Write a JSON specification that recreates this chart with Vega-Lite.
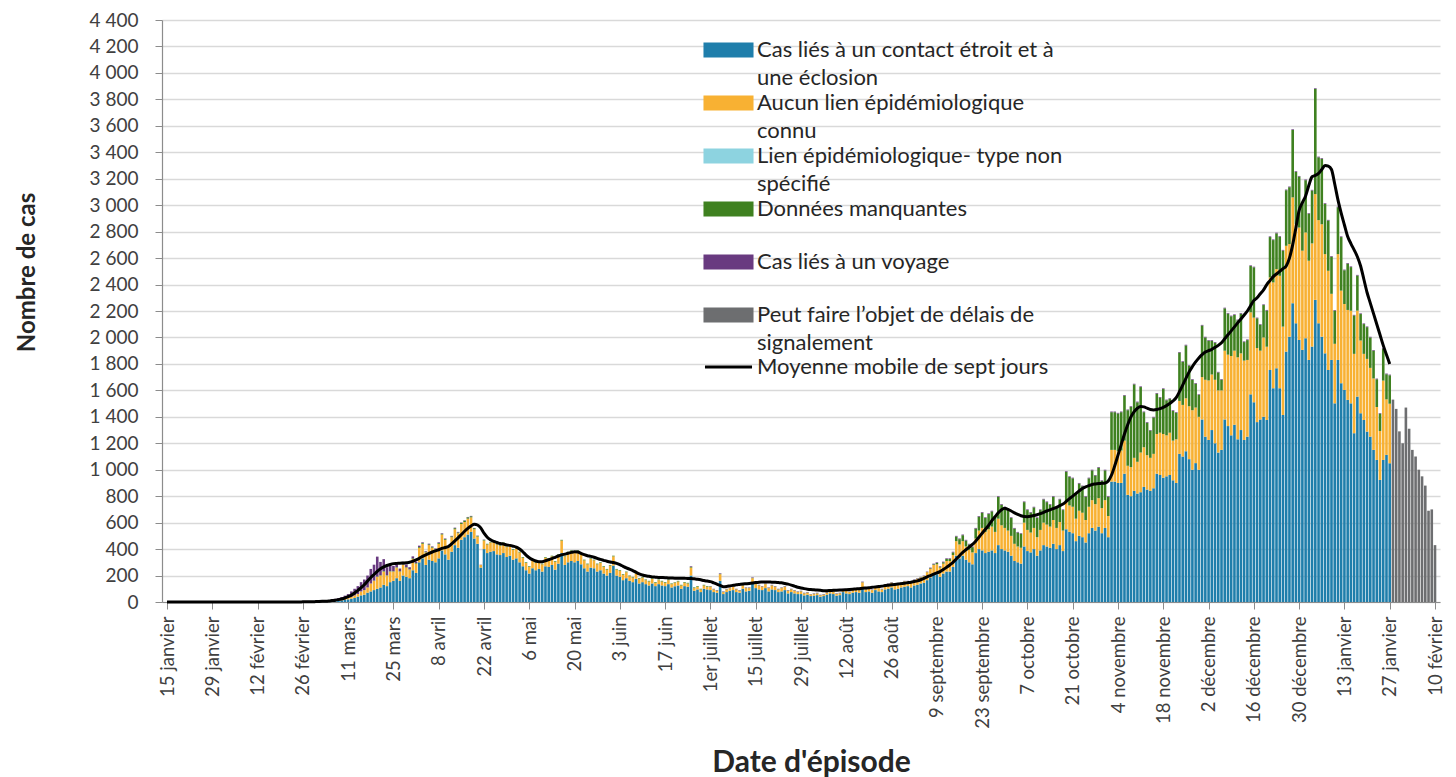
{
"$schema": "https://vega.github.io/schema/vega-lite/v6.json",
"width": 1278, "height": 582,
"autosize": {"type": "none"},
"padding": {"left": 162, "top": 20, "right": 16, "bottom": 175},
"background": "white",
"config": {
  "font": "Lato",
  "view": {"stroke": null},
  "locale": {
    "number": {"decimal": ",", "thousands": " ", "grouping": [3], "currency": ["", " €"]},
    "time": {"dateTime": "%A %e %B %Y à %X", "date": "%d/%m/%Y", "time": "%H:%M:%S", "periods": ["AM", "PM"],
      "days": ["dimanche","lundi","mardi","mercredi","jeudi","vendredi","samedi"],
      "shortDays": ["dim.","lun.","mar.","mer.","jeu.","ven.","sam."],
      "months": ["janvier","février","mars","avril","mai","juin","juillet","août","septembre","octobre","novembre","décembre"],
      "shortMonths": ["janv.","févr.","mars","avr.","mai","juin","juil.","août","sept.","oct.","nov.","déc."]}
  }
},
"data": {"values": [
{"date":"2020-01-15","moy":0},{"date":"2020-01-16","moy":0},{"date":"2020-01-17","moy":0},{"date":"2020-01-18","moy":0},{"date":"2020-01-19","moy":0},{"date":"2020-01-20","moy":0},{"date":"2020-01-21","moy":0},{"date":"2020-01-22","moy":0},{"date":"2020-01-23","moy":0},{"date":"2020-01-24","moy":0},{"date":"2020-01-25","moy":0},{"date":"2020-01-26","moy":0},{"date":"2020-01-27","moy":0},{"date":"2020-01-28","moy":0},
{"date":"2020-01-29","moy":0},{"date":"2020-01-30","moy":0},{"date":"2020-01-31","moy":0},{"date":"2020-02-01","moy":0},{"date":"2020-02-02","moy":0},{"date":"2020-02-03","moy":0},{"date":"2020-02-04","moy":0},{"date":"2020-02-05","moy":0},{"date":"2020-02-06","moy":0},{"date":"2020-02-07","moy":0},{"date":"2020-02-08","moy":0},{"date":"2020-02-09","moy":0},{"date":"2020-02-10","moy":0},{"date":"2020-02-11","moy":0},
{"date":"2020-02-12","moy":0},{"date":"2020-02-13","moy":0},{"date":"2020-02-14","moy":0},{"date":"2020-02-15","moy":0},{"date":"2020-02-16","moy":0},{"date":"2020-02-17","moy":0},{"date":"2020-02-18","moy":0},{"date":"2020-02-19","moy":0},{"date":"2020-02-20","moy":0},{"date":"2020-02-21","moy":0},{"date":"2020-02-22","moy":0},{"date":"2020-02-23","moy":0},{"date":"2020-02-24","moy":0},{"date":"2020-02-25","moy":0},
{"date":"2020-02-26","e_voy":2,"moy":1},
{"date":"2020-02-27","a_ctc":1,"e_voy":1,"moy":1},
{"date":"2020-02-28","e_voy":3,"moy":2},
{"date":"2020-02-29","a_ctc":1,"e_voy":2,"moy":2},
{"date":"2020-03-01","a_ctc":2,"e_voy":4,"moy":3},
{"date":"2020-03-02","a_ctc":2,"e_voy":5,"moy":4},
{"date":"2020-03-03","a_ctc":3,"e_voy":6,"moy":5},
{"date":"2020-03-04","a_ctc":4,"b_inc":1,"e_voy":8,"moy":6},
{"date":"2020-03-05","a_ctc":5,"b_inc":2,"e_voy":8,"moy":8},
{"date":"2020-03-06","a_ctc":6,"b_inc":3,"e_voy":10,"moy":11},
{"date":"2020-03-07","a_ctc":8,"b_inc":4,"e_voy":12,"moy":14},
{"date":"2020-03-08","a_ctc":10,"b_inc":5,"e_voy":15,"moy":18},
{"date":"2020-03-09","a_ctc":12,"b_inc":6,"e_voy":20,"moy":23},
{"date":"2020-03-10","a_ctc":15,"b_inc":8,"e_voy":25,"moy":30},
{"date":"2020-03-11","a_ctc":20,"b_inc":10,"e_voy":30,"moy":40},
{"date":"2020-03-12","a_ctc":25,"b_inc":15,"e_voy":40,"moy":52},
{"date":"2020-03-13","a_ctc":30,"b_inc":20,"e_voy":50,"moy":68},
{"date":"2020-03-14","a_ctc":40,"b_inc":20,"e_voy":60,"moy":88},
{"date":"2020-03-15","a_ctc":50,"b_inc":30,"e_voy":70,"moy":108},
{"date":"2020-03-16","a_ctc":55,"b_inc":35,"e_voy":80,"moy":130},
{"date":"2020-03-17","a_ctc":70,"b_inc":40,"e_voy":90,"moy":158},
{"date":"2020-03-18","a_ctc":80,"b_inc":60,"e_voy":110,"moy":185},
{"date":"2020-03-19","a_ctc":90,"b_inc":70,"d_man":2,"e_voy":120,"moy":208},
{"date":"2020-03-20","a_ctc":100,"b_inc":90,"d_man":3,"e_voy":150,"moy":232},
{"date":"2020-03-21","a_ctc":110,"b_inc":90,"d_man":3,"e_voy":100,"moy":252},
{"date":"2020-03-22","a_ctc":130,"b_inc":100,"d_man":4,"e_voy":90,"moy":266},
{"date":"2020-03-23","a_ctc":120,"b_inc":80,"d_man":3,"e_voy":60,"moy":276},
{"date":"2020-03-24","a_ctc":150,"b_inc":80,"d_man":3,"e_voy":50,"moy":284},
{"date":"2020-03-25","a_ctc":160,"b_inc":70,"d_man":3,"e_voy":40,"moy":290},
{"date":"2020-03-26","a_ctc":180,"b_inc":80,"d_man":4,"e_voy":30,"moy":292},
{"date":"2020-03-27","a_ctc":160,"b_inc":70,"d_man":3,"e_voy":20,"moy":293},
{"date":"2020-03-28","a_ctc":200,"b_inc":80,"d_man":4,"e_voy":20,"moy":295},
{"date":"2020-03-29","a_ctc":190,"b_inc":70,"d_man":4,"e_voy":20,"moy":297},
{"date":"2020-03-30","a_ctc":180,"b_inc":65,"d_man":3,"e_voy":15,"moy":300},
{"date":"2020-03-31","a_ctc":240,"b_inc":85,"d_man":5,"e_voy":15,"moy":308},
{"date":"2020-04-01","a_ctc":220,"b_inc":70,"d_man":5,"e_voy":10,"moy":318},
{"date":"2020-04-02","a_ctc":300,"b_inc":110,"d_man":6,"e_voy":10,"moy":330},
{"date":"2020-04-03","a_ctc":330,"b_inc":110,"d_man":6,"e_voy":5,"moy":345},
{"date":"2020-04-04","a_ctc":280,"b_inc":95,"d_man":5,"e_voy":5,"moy":357},
{"date":"2020-04-05","a_ctc":320,"b_inc":110,"d_man":6,"e_voy":5,"moy":368},
{"date":"2020-04-06","a_ctc":310,"b_inc":100,"d_man":5,"e_voy":5,"moy":378},
{"date":"2020-04-07","a_ctc":300,"b_inc":95,"d_man":5,"e_voy":5,"moy":387},
{"date":"2020-04-08","a_ctc":330,"b_inc":110,"d_man":6,"e_voy":5,"moy":395},
{"date":"2020-04-09","a_ctc":390,"b_inc":120,"d_man":6,"e_voy":4,"moy":405},
{"date":"2020-04-10","a_ctc":360,"b_inc":110,"d_man":6,"e_voy":4,"moy":412},
{"date":"2020-04-11","a_ctc":320,"b_inc":95,"d_man":5,"e_voy":3,"moy":420},
{"date":"2020-04-12","a_ctc":380,"b_inc":110,"d_man":6,"e_voy":4,"moy":440},
{"date":"2020-04-13","a_ctc":430,"b_inc":120,"d_man":8,"e_voy":4,"moy":462},
{"date":"2020-04-14","a_ctc":410,"b_inc":110,"d_man":6,"e_voy":4,"moy":485},
{"date":"2020-04-15","a_ctc":470,"b_inc":120,"d_man":8,"e_voy":3,"moy":510},
{"date":"2020-04-16","a_ctc":490,"b_inc":115,"d_man":10,"e_voy":3,"moy":535},
{"date":"2020-04-17","a_ctc":510,"b_inc":120,"d_man":10,"e_voy":3,"moy":557},
{"date":"2020-04-18","a_ctc":530,"b_inc":110,"d_man":8,"e_voy":3,"moy":575},
{"date":"2020-04-19","a_ctc":480,"b_inc":70,"d_man":8,"e_voy":2,"moy":588},
{"date":"2020-04-20","a_ctc":440,"b_inc":55,"d_man":5,"e_voy":2,"moy":582},
{"date":"2020-04-21","a_ctc":260,"b_inc":20,"e_voy":2,"moy":560},
{"date":"2020-04-22","a_ctc":400,"b_inc":65,"d_man":5,"e_voy":2,"moy":520},
{"date":"2020-04-23","a_ctc":370,"b_inc":65,"d_man":5,"moy":490},
{"date":"2020-04-24","a_ctc":380,"b_inc":70,"d_man":5,"moy":470},
{"date":"2020-04-25","a_ctc":385,"b_inc":70,"d_man":5,"moy":458},
{"date":"2020-04-26","a_ctc":360,"b_inc":75,"d_man":5,"moy":450},
{"date":"2020-04-27","a_ctc":355,"b_inc":70,"d_man":5,"moy":442},
{"date":"2020-04-28","a_ctc":370,"b_inc":75,"d_man":5,"moy":438},
{"date":"2020-04-29","a_ctc":340,"b_inc":75,"d_man":5,"moy":432},
{"date":"2020-04-30","a_ctc":350,"b_inc":75,"d_man":5,"moy":428},
{"date":"2020-05-01","a_ctc":320,"b_inc":75,"d_man":5,"moy":422},
{"date":"2020-05-02","a_ctc":330,"b_inc":75,"d_man":5,"moy":415},
{"date":"2020-05-03","a_ctc":300,"b_inc":75,"d_man":5,"moy":400},
{"date":"2020-05-04","a_ctc":270,"b_inc":65,"d_man":5,"moy":380},
{"date":"2020-05-05","a_ctc":240,"b_inc":55,"d_man":5,"moy":355},
{"date":"2020-05-06","a_ctc":215,"b_inc":50,"d_man":5,"moy":335},
{"date":"2020-05-07","a_ctc":255,"b_inc":60,"d_man":5,"moy":320},
{"date":"2020-05-08","a_ctc":240,"b_inc":55,"d_man":5,"moy":310},
{"date":"2020-05-09","a_ctc":250,"b_inc":55,"d_man":5,"moy":305},
{"date":"2020-05-10","a_ctc":230,"b_inc":55,"d_man":5,"moy":305},
{"date":"2020-05-11","a_ctc":270,"b_inc":65,"d_man":5,"moy":312},
{"date":"2020-05-12","a_ctc":265,"b_inc":60,"d_man":5,"moy":320},
{"date":"2020-05-13","a_ctc":280,"b_inc":65,"d_man":5,"moy":328},
{"date":"2020-05-14","a_ctc":245,"b_inc":60,"d_man":5,"moy":338},
{"date":"2020-05-15","a_ctc":290,"b_inc":65,"d_man":5,"moy":348},
{"date":"2020-05-16","a_ctc":370,"b_inc":95,"d_man":5,"moy":356},
{"date":"2020-05-17","a_ctc":280,"b_inc":65,"d_man":5,"moy":362},
{"date":"2020-05-18","a_ctc":300,"b_inc":75,"d_man":5,"moy":368},
{"date":"2020-05-19","a_ctc":310,"b_inc":75,"d_man":5,"moy":375},
{"date":"2020-05-20","a_ctc":300,"b_inc":75,"d_man":5,"moy":380},
{"date":"2020-05-21","a_ctc":310,"b_inc":75,"d_man":5,"moy":378},
{"date":"2020-05-22","a_ctc":285,"b_inc":70,"d_man":5,"moy":368},
{"date":"2020-05-23","a_ctc":255,"b_inc":60,"d_man":5,"moy":358},
{"date":"2020-05-24","a_ctc":230,"b_inc":55,"d_man":5,"moy":350},
{"date":"2020-05-25","a_ctc":260,"b_inc":65,"d_man":5,"moy":345},
{"date":"2020-05-26","a_ctc":255,"b_inc":60,"d_man":5,"moy":338},
{"date":"2020-05-27","a_ctc":230,"b_inc":55,"d_man":5,"moy":330},
{"date":"2020-05-28","a_ctc":240,"b_inc":55,"d_man":5,"moy":322},
{"date":"2020-05-29","a_ctc":215,"b_inc":50,"d_man":5,"moy":315},
{"date":"2020-05-30","a_ctc":200,"b_inc":45,"d_man":5,"moy":308},
{"date":"2020-05-31","a_ctc":220,"b_inc":55,"d_man":5,"moy":302},
{"date":"2020-06-01","a_ctc":275,"b_inc":70,"d_man":5,"moy":298},
{"date":"2020-06-02","a_ctc":200,"b_inc":45,"d_man":5,"moy":292},
{"date":"2020-06-03","a_ctc":190,"b_inc":45,"d_man":5,"moy":282},
{"date":"2020-06-04","a_ctc":165,"b_inc":40,"d_man":5,"moy":270},
{"date":"2020-06-05","a_ctc":180,"b_inc":45,"d_man":5,"moy":258},
{"date":"2020-06-06","a_ctc":160,"b_inc":35,"d_man":5,"moy":248},
{"date":"2020-06-07","a_ctc":150,"b_inc":35,"d_man":5,"moy":238},
{"date":"2020-06-08","a_ctc":175,"b_inc":40,"d_man":5,"moy":225},
{"date":"2020-06-09","a_ctc":140,"b_inc":35,"d_man":5,"moy":212},
{"date":"2020-06-10","a_ctc":150,"b_inc":35,"d_man":5,"moy":204},
{"date":"2020-06-11","a_ctc":135,"b_inc":30,"d_man":5,"moy":198},
{"date":"2020-06-12","a_ctc":125,"b_inc":30,"d_man":5,"moy":194},
{"date":"2020-06-13","a_ctc":140,"b_inc":35,"d_man":5,"moy":190},
{"date":"2020-06-14","a_ctc":120,"b_inc":25,"d_man":5,"moy":188},
{"date":"2020-06-15","a_ctc":135,"b_inc":30,"d_man":5,"moy":186},
{"date":"2020-06-16","a_ctc":125,"b_inc":30,"d_man":5,"moy":185},
{"date":"2020-06-17","a_ctc":120,"b_inc":25,"d_man":5,"moy":184},
{"date":"2020-06-18","a_ctc":135,"b_inc":30,"d_man":5,"moy":182},
{"date":"2020-06-19","a_ctc":110,"b_inc":25,"d_man":5,"moy":181},
{"date":"2020-06-20","a_ctc":120,"b_inc":25,"d_man":5,"moy":180},
{"date":"2020-06-21","a_ctc":125,"b_inc":30,"d_man":5,"moy":180},
{"date":"2020-06-22","a_ctc":100,"b_inc":25,"d_man":5,"moy":180},
{"date":"2020-06-23","a_ctc":120,"b_inc":25,"d_man":5,"moy":179},
{"date":"2020-06-24","a_ctc":115,"b_inc":25,"d_man":5,"moy":178},
{"date":"2020-06-25","a_ctc":200,"b_inc":60,"d_man":5,"e_voy":5,"moy":178},
{"date":"2020-06-26","a_ctc":85,"b_inc":20,"d_man":5,"moy":175},
{"date":"2020-06-27","a_ctc":95,"b_inc":20,"d_man":5,"moy":172},
{"date":"2020-06-28","a_ctc":75,"b_inc":20,"d_man":5,"moy":168},
{"date":"2020-06-29","a_ctc":100,"b_inc":25,"d_man":5,"moy":162},
{"date":"2020-06-30","a_ctc":95,"b_inc":20,"d_man":5,"moy":158},
{"date":"2020-07-01","a_ctc":90,"b_inc":25,"d_man":3,"e_voy":2,"moy":154},
{"date":"2020-07-02","a_ctc":75,"b_inc":20,"d_man":2,"e_voy":3,"moy":145},
{"date":"2020-07-03","a_ctc":70,"b_inc":15,"d_man":2,"e_voy":3,"moy":135},
{"date":"2020-07-04","a_ctc":160,"b_inc":50,"d_man":3,"e_voy":4,"moy":125},
{"date":"2020-07-05","a_ctc":60,"b_inc":15,"d_man":2,"e_voy":3,"moy":116},
{"date":"2020-07-06","a_ctc":75,"b_inc":20,"d_man":2,"e_voy":3,"moy":118},
{"date":"2020-07-07","a_ctc":85,"b_inc":20,"d_man":2,"e_voy":3,"moy":122},
{"date":"2020-07-08","a_ctc":90,"b_inc":25,"d_man":2,"e_voy":3,"moy":126},
{"date":"2020-07-09","a_ctc":75,"b_inc":20,"d_man":2,"e_voy":3,"moy":130},
{"date":"2020-07-10","a_ctc":70,"b_inc":15,"d_man":2,"e_voy":3,"moy":133},
{"date":"2020-07-11","a_ctc":100,"b_inc":25,"d_man":2,"e_voy":3,"moy":136},
{"date":"2020-07-12","a_ctc":80,"b_inc":25,"d_man":2,"e_voy":3,"moy":138},
{"date":"2020-07-13","a_ctc":85,"b_inc":20,"d_man":2,"e_voy":3,"moy":140},
{"date":"2020-07-14","a_ctc":140,"b_inc":40,"d_man":2,"e_voy":4,"moy":143},
{"date":"2020-07-15","a_ctc":105,"b_inc":30,"d_man":2,"e_voy":3,"moy":147},
{"date":"2020-07-16","a_ctc":95,"b_inc":30,"d_man":2,"e_voy":3,"moy":150},
{"date":"2020-07-17","a_ctc":90,"b_inc":25,"d_man":2,"e_voy":3,"moy":151},
{"date":"2020-07-18","a_ctc":105,"b_inc":30,"d_man":2,"e_voy":3,"moy":152},
{"date":"2020-07-19","a_ctc":80,"b_inc":25,"d_man":2,"e_voy":3,"moy":151},
{"date":"2020-07-20","a_ctc":95,"b_inc":30,"d_man":2,"e_voy":3,"moy":150},
{"date":"2020-07-21","a_ctc":90,"b_inc":25,"d_man":2,"e_voy":3,"moy":149},
{"date":"2020-07-22","a_ctc":75,"b_inc":20,"d_man":2,"e_voy":3,"moy":147},
{"date":"2020-07-23","a_ctc":80,"b_inc":25,"d_man":2,"e_voy":3,"moy":145},
{"date":"2020-07-24","a_ctc":90,"b_inc":25,"d_man":2,"e_voy":3,"moy":140},
{"date":"2020-07-25","a_ctc":65,"b_inc":20,"d_man":2,"e_voy":3,"moy":135},
{"date":"2020-07-26","a_ctc":75,"b_inc":20,"d_man":2,"e_voy":3,"moy":128},
{"date":"2020-07-27","a_ctc":65,"b_inc":20,"d_man":2,"e_voy":3,"moy":120},
{"date":"2020-07-28","a_ctc":60,"b_inc":15,"d_man":2,"e_voy":3,"moy":112},
{"date":"2020-07-29","a_ctc":60,"b_inc":20,"d_man":2,"e_voy":3,"moy":106},
{"date":"2020-07-30","a_ctc":50,"b_inc":15,"d_man":2,"e_voy":3,"moy":101},
{"date":"2020-07-31","a_ctc":55,"b_inc":15,"d_man":2,"e_voy":3,"moy":97},
{"date":"2020-08-01","a_ctc":45,"b_inc":12,"d_man":1,"e_voy":2,"moy":94},
{"date":"2020-08-02","a_ctc":48,"b_inc":12,"d_man":2,"e_voy":3,"moy":92},
{"date":"2020-08-03","a_ctc":52,"b_inc":13,"d_man":2,"e_voy":3,"moy":90},
{"date":"2020-08-04","a_ctc":40,"b_inc":10,"d_man":2,"e_voy":3,"moy":88},
{"date":"2020-08-05","a_ctc":45,"b_inc":10,"d_man":2,"e_voy":3,"moy":86},
{"date":"2020-08-06","a_ctc":55,"b_inc":15,"d_man":2,"e_voy":3,"moy":86},
{"date":"2020-08-07","a_ctc":65,"b_inc":20,"d_man":2,"e_voy":3,"moy":87},
{"date":"2020-08-08","a_ctc":60,"b_inc":15,"d_man":2,"e_voy":3,"moy":88},
{"date":"2020-08-09","a_ctc":48,"b_inc":12,"d_man":2,"e_voy":3,"moy":89},
{"date":"2020-08-10","a_ctc":52,"b_inc":13,"d_man":2,"e_voy":3,"moy":90},
{"date":"2020-08-11","a_ctc":75,"b_inc":20,"d_man":2,"e_voy":3,"moy":91},
{"date":"2020-08-12","a_ctc":65,"b_inc":20,"d_man":2,"e_voy":3,"moy":93},
{"date":"2020-08-13","a_ctc":60,"b_inc":15,"d_man":2,"e_voy":3,"moy":95},
{"date":"2020-08-14","a_ctc":70,"b_inc":20,"d_man":2,"e_voy":3,"moy":97},
{"date":"2020-08-15","a_ctc":75,"b_inc":20,"d_man":2,"e_voy":3,"moy":99},
{"date":"2020-08-16","a_ctc":70,"b_inc":20,"d_man":2,"e_voy":3,"moy":101},
{"date":"2020-08-17","a_ctc":110,"b_inc":38,"d_man":2,"e_voy":4,"moy":104},
{"date":"2020-08-18","a_ctc":75,"b_inc":20,"d_man":2,"e_voy":3,"moy":106},
{"date":"2020-08-19","a_ctc":80,"b_inc":25,"d_man":2,"e_voy":3,"moy":108},
{"date":"2020-08-20","a_ctc":70,"b_inc":20,"d_man":2,"e_voy":3,"moy":111},
{"date":"2020-08-21","a_ctc":90,"b_inc":25,"d_man":2,"e_voy":3,"moy":114},
{"date":"2020-08-22","a_ctc":80,"b_inc":25,"d_man":2,"e_voy":3,"moy":117},
{"date":"2020-08-23","a_ctc":75,"b_inc":20,"d_man":2,"e_voy":3,"moy":120},
{"date":"2020-08-24","a_ctc":95,"b_inc":30,"d_man":2,"e_voy":3,"moy":124},
{"date":"2020-08-25","a_ctc":100,"b_inc":35,"d_man":2,"e_voy":3,"moy":127},
{"date":"2020-08-26","a_ctc":110,"b_inc":35,"d_man":2,"e_voy":3,"moy":130},
{"date":"2020-08-27","a_ctc":95,"b_inc":30,"d_man":2,"e_voy":3,"moy":133},
{"date":"2020-08-28","a_ctc":100,"b_inc":35,"d_man":2,"e_voy":3,"moy":136},
{"date":"2020-08-29","a_ctc":110,"b_inc":35,"d_man":2,"e_voy":3,"moy":139},
{"date":"2020-08-30","a_ctc":115,"b_inc":40,"d_man":2,"e_voy":3,"moy":142},
{"date":"2020-08-31","a_ctc":120,"b_inc":35,"d_man":2,"e_voy":3,"moy":146},
{"date":"2020-09-01","a_ctc":110,"b_inc":35,"d_man":2,"e_voy":3,"moy":150},
{"date":"2020-09-02","a_ctc":125,"b_inc":40,"d_man":2,"e_voy":3,"moy":155},
{"date":"2020-09-03","a_ctc":130,"b_inc":45,"d_man":2,"e_voy":3,"moy":160},
{"date":"2020-09-04","a_ctc":140,"b_inc":45,"d_man":2,"e_voy":3,"moy":168},
{"date":"2020-09-05","a_ctc":145,"b_inc":50,"d_man":2,"e_voy":3,"moy":178},
{"date":"2020-09-06","a_ctc":165,"b_inc":60,"d_man":2,"e_voy":3,"moy":190},
{"date":"2020-09-07","a_ctc":185,"b_inc":65,"d_man":5,"e_voy":5,"moy":200},
{"date":"2020-09-08","a_ctc":205,"b_inc":75,"d_man":5,"e_voy":5,"moy":210},
{"date":"2020-09-09","a_ctc":210,"b_inc":75,"d_man":10,"e_voy":5,"moy":220},
{"date":"2020-09-10","a_ctc":190,"b_inc":70,"d_man":5,"e_voy":5,"moy":230},
{"date":"2020-09-11","a_ctc":215,"b_inc":75,"d_man":10,"e_voy":5,"moy":245},
{"date":"2020-09-12","a_ctc":230,"b_inc":80,"d_man":15,"e_voy":5,"moy":262},
{"date":"2020-09-13","a_ctc":230,"b_inc":80,"d_man":15,"e_voy":5,"moy":280},
{"date":"2020-09-14","a_ctc":265,"b_inc":90,"d_man":20,"e_voy":5,"moy":300},
{"date":"2020-09-15","a_ctc":350,"b_inc":110,"d_man":35,"e_voy":5,"moy":325},
{"date":"2020-09-16","a_ctc":330,"b_inc":105,"d_man":40,"e_voy":5,"moy":350},
{"date":"2020-09-17","a_ctc":350,"b_inc":110,"d_man":45,"e_voy":5,"moy":375},
{"date":"2020-09-18","a_ctc":320,"b_inc":100,"d_man":45,"e_voy":5,"moy":395},
{"date":"2020-09-19","a_ctc":300,"b_inc":95,"d_man":40,"e_voy":5,"moy":415},
{"date":"2020-09-20","a_ctc":285,"b_inc":90,"d_man":40,"e_voy":5,"moy":435},
{"date":"2020-09-21","a_ctc":370,"b_inc":110,"d_man":75,"e_voy":5,"moy":460},
{"date":"2020-09-22","a_ctc":400,"b_inc":140,"d_man":105,"e_voy":5,"moy":490},
{"date":"2020-09-23","a_ctc":390,"b_inc":170,"d_man":115,"e_voy":5,"moy":520},
{"date":"2020-09-24","a_ctc":370,"b_inc":160,"d_man":105,"e_voy":5,"moy":550},
{"date":"2020-09-25","a_ctc":380,"b_inc":170,"d_man":115,"e_voy":5,"moy":580},
{"date":"2020-09-26","a_ctc":390,"b_inc":180,"d_man":115,"e_voy":5,"moy":615},
{"date":"2020-09-27","a_ctc":370,"b_inc":160,"d_man":115,"e_voy":5,"moy":645},
{"date":"2020-09-28","a_ctc":430,"b_inc":200,"d_man":165,"e_voy":5,"moy":675},
{"date":"2020-09-29","a_ctc":400,"b_inc":180,"d_man":155,"e_voy":5,"moy":698},
{"date":"2020-09-30","a_ctc":390,"b_inc":170,"d_man":155,"e_voy":5,"moy":708},
{"date":"2020-10-01","a_ctc":380,"b_inc":160,"d_man":155,"e_voy":5,"moy":700},
{"date":"2020-10-02","a_ctc":350,"b_inc":150,"d_man":135,"e_voy":5,"moy":688},
{"date":"2020-10-03","a_ctc":310,"b_inc":130,"d_man":115,"e_voy":5,"moy":674},
{"date":"2020-10-04","a_ctc":300,"b_inc":120,"d_man":105,"e_voy":5,"moy":662},
{"date":"2020-10-05","a_ctc":290,"b_inc":120,"d_man":105,"e_voy":5,"moy":652},
{"date":"2020-10-06","a_ctc":420,"b_inc":180,"d_man":155,"e_voy":5,"moy":646},
{"date":"2020-10-07","a_ctc":385,"b_inc":160,"d_man":150,"e_voy":5,"moy":645},
{"date":"2020-10-08","a_ctc":375,"b_inc":150,"d_man":150,"e_voy":5,"moy":648},
{"date":"2020-10-09","a_ctc":400,"b_inc":160,"d_man":155,"e_voy":5,"moy":654},
{"date":"2020-10-10","a_ctc":350,"b_inc":140,"d_man":145,"e_voy":5,"moy":660},
{"date":"2020-10-11","a_ctc":390,"b_inc":155,"d_man":150,"e_voy":5,"moy":668},
{"date":"2020-10-12","a_ctc":430,"b_inc":170,"d_man":175,"e_voy":5,"moy":678},
{"date":"2020-10-13","a_ctc":420,"b_inc":165,"d_man":170,"e_voy":5,"moy":688},
{"date":"2020-10-14","a_ctc":410,"b_inc":160,"d_man":165,"e_voy":5,"moy":697},
{"date":"2020-10-15","a_ctc":440,"b_inc":180,"d_man":175,"e_voy":5,"moy":706},
{"date":"2020-10-16","a_ctc":400,"b_inc":160,"d_man":155,"e_voy":5,"moy":716},
{"date":"2020-10-17","a_ctc":430,"b_inc":175,"d_man":170,"e_voy":5,"moy":728},
{"date":"2020-10-18","a_ctc":385,"b_inc":155,"d_man":155,"e_voy":5,"moy":740},
{"date":"2020-10-19","a_ctc":550,"b_inc":210,"d_man":225,"e_voy":5,"moy":760},
{"date":"2020-10-20","a_ctc":530,"b_inc":200,"d_man":215,"e_voy":5,"moy":782},
{"date":"2020-10-21","a_ctc":520,"b_inc":200,"d_man":215,"e_voy":5,"moy":800},
{"date":"2020-10-22","a_ctc":460,"b_inc":170,"d_man":185,"e_voy":5,"moy":820},
{"date":"2020-10-23","a_ctc":500,"b_inc":190,"d_man":205,"e_voy":5,"moy":840},
{"date":"2020-10-24","a_ctc":490,"b_inc":185,"d_man":200,"e_voy":5,"moy":858},
{"date":"2020-10-25","a_ctc":450,"b_inc":170,"d_man":175,"e_voy":5,"moy":870},
{"date":"2020-10-26","a_ctc":520,"b_inc":200,"d_man":215,"e_voy":5,"moy":880},
{"date":"2020-10-27","a_ctc":560,"b_inc":210,"d_man":225,"e_voy":5,"moy":888},
{"date":"2020-10-28","a_ctc":540,"b_inc":200,"d_man":215,"e_voy":5,"moy":892},
{"date":"2020-10-29","a_ctc":570,"b_inc":215,"d_man":230,"e_voy":5,"moy":895},
{"date":"2020-10-30","a_ctc":520,"b_inc":190,"d_man":205,"e_voy":5,"moy":897},
{"date":"2020-10-31","a_ctc":560,"b_inc":210,"d_man":225,"e_voy":5,"moy":900},
{"date":"2020-11-01","a_ctc":490,"b_inc":160,"d_man":145,"e_voy":5,"moy":915},
{"date":"2020-11-02","a_ctc":910,"b_inc":240,"d_man":285,"e_voy":5,"moy":960},
{"date":"2020-11-03","a_ctc":910,"b_inc":240,"d_man":285,"e_voy":5,"moy":1030},
{"date":"2020-11-04","a_ctc":900,"b_inc":240,"d_man":285,"e_voy":5,"moy":1110},
{"date":"2020-11-05","a_ctc":900,"b_inc":245,"d_man":290,"e_voy":5,"moy":1190},
{"date":"2020-11-06","a_ctc":970,"b_inc":250,"d_man":340,"e_voy":5,"moy":1270},
{"date":"2020-11-07","a_ctc":810,"b_inc":220,"d_man":420,"e_voy":5,"moy":1340},
{"date":"2020-11-08","a_ctc":800,"b_inc":220,"d_man":455,"e_voy":5,"moy":1400},
{"date":"2020-11-09","a_ctc":840,"b_inc":250,"d_man":555,"e_voy":5,"moy":1440},
{"date":"2020-11-10","a_ctc":820,"b_inc":240,"d_man":450,"e_voy":5,"moy":1465},
{"date":"2020-11-11","a_ctc":830,"b_inc":300,"d_man":495,"e_voy":5,"moy":1478},
{"date":"2020-11-12","a_ctc":870,"b_inc":300,"d_man":265,"e_voy":5,"moy":1475},
{"date":"2020-11-13","a_ctc":850,"b_inc":260,"d_man":245,"e_voy":5,"moy":1465},
{"date":"2020-11-14","a_ctc":840,"b_inc":250,"d_man":205,"e_voy":5,"moy":1455},
{"date":"2020-11-15","a_ctc":860,"b_inc":260,"d_man":275,"e_voy":5,"moy":1452},
{"date":"2020-11-16","a_ctc":970,"b_inc":300,"d_man":305,"e_voy":5,"moy":1455},
{"date":"2020-11-17","a_ctc":960,"b_inc":320,"d_man":265,"e_voy":5,"moy":1462},
{"date":"2020-11-18","a_ctc":940,"b_inc":330,"d_man":340,"e_voy":5,"moy":1472},
{"date":"2020-11-19","a_ctc":950,"b_inc":310,"d_man":265,"e_voy":5,"moy":1485},
{"date":"2020-11-20","a_ctc":960,"b_inc":320,"d_man":255,"e_voy":5,"moy":1500},
{"date":"2020-11-21","a_ctc":920,"b_inc":300,"d_man":225,"e_voy":5,"moy":1520},
{"date":"2020-11-22","a_ctc":900,"b_inc":330,"d_man":200,"e_voy":5,"moy":1545},
{"date":"2020-11-23","a_ctc":1120,"b_inc":400,"d_man":365,"e_voy":5,"moy":1590},
{"date":"2020-11-24","a_ctc":1100,"b_inc":390,"d_man":325,"e_voy":5,"moy":1640},
{"date":"2020-11-25","a_ctc":1140,"b_inc":400,"d_man":400,"e_voy":5,"moy":1690},
{"date":"2020-11-26","a_ctc":1080,"b_inc":400,"d_man":305,"e_voy":5,"moy":1740},
{"date":"2020-11-27","a_ctc":1000,"b_inc":450,"d_man":230,"e_voy":5,"moy":1780},
{"date":"2020-11-28","a_ctc":1050,"b_inc":420,"d_man":180,"e_voy":5,"moy":1815},
{"date":"2020-11-29","a_ctc":1000,"b_inc":400,"d_man":165,"e_voy":5,"moy":1845},
{"date":"2020-11-30","a_ctc":1380,"b_inc":320,"d_man":390,"e_voy":5,"moy":1870},
{"date":"2020-12-01","a_ctc":1250,"b_inc":430,"d_man":320,"e_voy":5,"moy":1890},
{"date":"2020-12-02","a_ctc":1225,"b_inc":450,"d_man":300,"e_voy":5,"moy":1900},
{"date":"2020-12-03","a_ctc":1300,"b_inc":420,"d_man":255,"e_voy":5,"moy":1910},
{"date":"2020-12-04","a_ctc":1200,"b_inc":480,"d_man":280,"e_voy":5,"moy":1925},
{"date":"2020-12-05","a_ctc":1130,"b_inc":470,"d_man":135,"e_voy":5,"moy":1940},
{"date":"2020-12-06","a_ctc":1150,"b_inc":450,"d_man":80,"e_voy":5,"moy":1960},
{"date":"2020-12-07","a_ctc":1380,"b_inc":520,"d_man":320,"e_voy":5,"moy":1990},
{"date":"2020-12-08","a_ctc":1330,"b_inc":540,"d_man":310,"e_voy":5,"moy":2020},
{"date":"2020-12-09","a_ctc":1260,"b_inc":600,"d_man":300,"e_voy":5,"moy":2050},
{"date":"2020-12-10","a_ctc":1340,"b_inc":560,"d_man":270,"e_voy":5,"moy":2080},
{"date":"2020-12-11","a_ctc":1230,"b_inc":620,"d_man":280,"e_voy":5,"moy":2110},
{"date":"2020-12-12","a_ctc":1300,"b_inc":580,"d_man":300,"e_voy":5,"moy":2140},
{"date":"2020-12-13","a_ctc":1225,"b_inc":600,"d_man":140,"e_voy":5,"moy":2170},
{"date":"2020-12-14","a_ctc":1250,"b_inc":580,"d_man":150,"e_voy":5,"moy":2200},
{"date":"2020-12-15","a_ctc":1570,"b_inc":620,"d_man":350,"e_voy":5,"moy":2240},
{"date":"2020-12-16","a_ctc":1510,"b_inc":640,"d_man":380,"e_voy":5,"moy":2280},
{"date":"2020-12-17","a_ctc":1360,"b_inc":560,"d_man":225,"e_voy":5,"moy":2300},
{"date":"2020-12-18","a_ctc":1380,"b_inc":520,"d_man":195,"e_voy":5,"moy":2330},
{"date":"2020-12-19","a_ctc":1400,"b_inc":600,"d_man":245,"e_voy":5,"moy":2360},
{"date":"2020-12-20","a_ctc":1376,"b_inc":554,"d_man":273,"e_voy":5,"moy":2400},
{"date":"2020-12-21","a_ctc":1754,"b_inc":700,"d_man":305,"e_voy":5,"moy":2430},
{"date":"2020-12-22","a_ctc":1616,"b_inc":800,"d_man":320,"e_voy":5,"moy":2460},
{"date":"2020-12-23","a_ctc":1767,"b_inc":750,"d_man":270,"e_voy":5,"moy":2480},
{"date":"2020-12-24","a_ctc":1616,"b_inc":850,"d_man":295,"e_voy":5,"moy":2500},
{"date":"2020-12-25","a_ctc":1414,"b_inc":668,"d_man":575,"e_voy":5,"moy":2520},
{"date":"2020-12-26","a_ctc":1893,"b_inc":800,"d_man":420,"e_voy":5,"moy":2540},
{"date":"2020-12-27","a_ctc":2006,"b_inc":700,"d_man":430,"e_voy":5,"moy":2600},
{"date":"2020-12-28","a_ctc":2259,"b_inc":800,"d_man":510,"e_voy":5,"moy":2700},
{"date":"2020-12-29","a_ctc":2107,"b_inc":750,"d_man":395,"e_voy":5,"moy":2830},
{"date":"2020-12-30","a_ctc":1981,"b_inc":850,"d_man":385,"e_voy":5,"moy":2960},
{"date":"2020-12-31","a_ctc":1906,"b_inc":750,"d_man":355,"e_voy":5,"moy":3020},
{"date":"2021-01-01","a_ctc":1994,"b_inc":800,"d_man":395,"e_voy":5,"moy":3070},
{"date":"2021-01-02","a_ctc":1830,"b_inc":750,"d_man":355,"e_voy":5,"moy":3150},
{"date":"2021-01-03","a_ctc":1931,"b_inc":780,"d_man":400,"e_voy":5,"moy":3215},
{"date":"2021-01-04","a_ctc":2284,"b_inc":800,"d_man":795,"e_voy":5,"moy":3225},
{"date":"2021-01-05","a_ctc":2107,"b_inc":780,"d_man":475,"e_voy":5,"moy":3240},
{"date":"2021-01-06","a_ctc":2006,"b_inc":850,"d_man":495,"e_voy":5,"moy":3270},
{"date":"2021-01-07","a_ctc":1880,"b_inc":750,"d_man":380,"e_voy":5,"moy":3300},
{"date":"2021-01-08","a_ctc":1754,"b_inc":750,"d_man":380,"e_voy":5,"moy":3295},
{"date":"2021-01-09","a_ctc":1830,"b_inc":500,"d_man":280,"e_voy":5,"moy":3270},
{"date":"2021-01-10","a_ctc":1502,"b_inc":450,"d_man":250,"e_voy":5,"moy":3160},
{"date":"2021-01-11","a_ctc":1830,"b_inc":800,"d_man":355,"e_voy":5,"moy":3040},
{"date":"2021-01-12","a_ctc":1654,"b_inc":700,"d_man":405,"e_voy":5,"moy":2940},
{"date":"2021-01-13","a_ctc":1603,"b_inc":650,"d_man":255,"e_voy":5,"moy":2850},
{"date":"2021-01-14","a_ctc":1528,"b_inc":680,"d_man":350,"e_voy":5,"moy":2763},
{"date":"2021-01-15","a_ctc":1502,"b_inc":700,"d_man":330,"e_voy":5,"moy":2710},
{"date":"2021-01-16","a_ctc":1276,"b_inc":600,"d_man":290,"e_voy":5,"moy":2662},
{"date":"2021-01-17","a_ctc":1553,"b_inc":650,"d_man":265,"e_voy":5,"moy":2610},
{"date":"2021-01-18","a_ctc":1427,"b_inc":550,"d_man":200,"e_voy":5,"moy":2540},
{"date":"2021-01-19","a_ctc":1376,"b_inc":500,"d_man":225,"e_voy":5,"moy":2440},
{"date":"2021-01-20","a_ctc":1288,"b_inc":550,"d_man":240,"e_voy":5,"moy":2340},
{"date":"2021-01-21","a_ctc":1250,"b_inc":520,"d_man":230,"e_voy":5,"moy":2260},
{"date":"2021-01-22","a_ctc":1150,"b_inc":540,"d_man":210,"e_voy":5,"moy":2180},
{"date":"2021-01-23","a_ctc":1074,"b_inc":400,"d_man":210,"e_voy":5,"moy":2100},
{"date":"2021-01-24","a_ctc":923,"b_inc":370,"d_man":130,"e_voy":5,"moy":2020},
{"date":"2021-01-25","a_ctc":1074,"b_inc":600,"d_man":240,"e_voy":5,"moy":1940},
{"date":"2021-01-26","a_ctc":1112,"b_inc":420,"d_man":190,"e_voy":5,"moy":1870},
{"date":"2021-01-27","a_ctc":1049,"b_inc":450,"d_man":215,"e_voy":5,"moy":1800},
{"date":"2021-01-28","f_del":1530},
{"date":"2021-01-29","f_del":1460},
{"date":"2021-01-30","f_del":1290},
{"date":"2021-01-31","f_del":1200},
{"date":"2021-02-01","f_del":1470},
{"date":"2021-02-02","f_del":1310},
{"date":"2021-02-03","f_del":1150},
{"date":"2021-02-04","f_del":1100},
{"date":"2021-02-05","f_del":1000},
{"date":"2021-02-06","f_del":950},
{"date":"2021-02-07","f_del":880},
{"date":"2021-02-08","f_del":690},
{"date":"2021-02-09","f_del":700},
{"date":"2021-02-10","f_del":430}
]},
"layer": [
 {
  "transform": [
    {"fold": ["a_ctc","b_inc","c_nsp","d_man","e_voy","f_del"], "as": ["k","v"]},
    {"filter": "datum.v > 0"}
  ],
  "mark": {"type": "bar", "width": 2.6},
  "encoding": {
    "x": {"field": "date", "type": "temporal",
      "scale": {"type": "utc", "domain": [{"year":2020,"month":1,"date":15,"utc":true},{"year":2021,"month":2,"date":10,"utc":true}]},
      "title": "Date d'épisode",
      "axis": {
        "values": [
          {"year":2020,"month":1,"date":15,"utc":true},{"year":2020,"month":1,"date":29,"utc":true},{"year":2020,"month":2,"date":12,"utc":true},{"year":2020,"month":2,"date":26,"utc":true},
          {"year":2020,"month":3,"date":11,"utc":true},{"year":2020,"month":3,"date":25,"utc":true},{"year":2020,"month":4,"date":8,"utc":true},{"year":2020,"month":4,"date":22,"utc":true},
          {"year":2020,"month":5,"date":6,"utc":true},{"year":2020,"month":5,"date":20,"utc":true},{"year":2020,"month":6,"date":3,"utc":true},{"year":2020,"month":6,"date":17,"utc":true},
          {"year":2020,"month":7,"date":1,"utc":true},{"year":2020,"month":7,"date":15,"utc":true},{"year":2020,"month":7,"date":29,"utc":true},{"year":2020,"month":8,"date":12,"utc":true},
          {"year":2020,"month":8,"date":26,"utc":true},{"year":2020,"month":9,"date":9,"utc":true},{"year":2020,"month":9,"date":23,"utc":true},{"year":2020,"month":10,"date":7,"utc":true},
          {"year":2020,"month":10,"date":21,"utc":true},{"year":2020,"month":11,"date":4,"utc":true},{"year":2020,"month":11,"date":18,"utc":true},{"year":2020,"month":12,"date":2,"utc":true},
          {"year":2020,"month":12,"date":16,"utc":true},{"year":2020,"month":12,"date":30,"utc":true},{"year":2021,"month":1,"date":13,"utc":true},{"year":2021,"month":1,"date":27,"utc":true},
          {"year":2021,"month":2,"date":10,"utc":true}
        ],
        "format": "%-d %B",
        "labelExpr": "utcdate(datum.value) == 1 ? '1er ' + utcFormat(datum.value, '%B') : datum.label",
        "labelAngle": -90, "labelFontSize": 18.5, "labelColor": "#404040", "labelPadding": 7,
        "labelOverlap": false, "labelFlush": false, "labelBound": false,
        "tickSize": 7, "tickColor": "#8c8c8c", "domainColor": "#8c8c8c", "domainWidth": 1.2, "grid": false,
        "titleFontSize": 30, "titleFontWeight": "bold", "titleColor": "#262626", "titleX": 649, "titleY": 160, "titleBaseline": "middle", "titleAlign": "center"
      }
    },
    "y": {"field": "v", "type": "quantitative", "stack": "zero",
      "scale": {"domain": [0, 4400], "nice": false},
      "title": "Nombre de cas",
      "axis": {
        "values": [0,200,400,600,800,1000,1200,1400,1600,1800,2000,2200,2400,2600,2800,3000,3200,3400,3600,3800,4000,4200,4400],
        "format": ",d",
        "labelOverlap": false, "labelFlush": false,
        "labelFontSize": 19, "labelColor": "#404040", "labelPadding": 17,
        "tickSize": 7, "tickColor": "#8c8c8c", "domainColor": "#8c8c8c", "domainWidth": 1.2,
        "grid": true, "gridColor": "#d9d9d9", "gridWidth": 1.5,
        "titleFontSize": 24, "titleFontWeight": "bold", "titleColor": "#262626",
        "titleX": -135, "titleY": 252, "titleAngle": -90, "titleBaseline": "middle", "titleAlign": "center"
      }
    },
    "color": {"field": "k", "type": "nominal",
      "scale": {
        "domain": ["a_ctc","b_inc","c_nsp","d_man","e_voy","f_del","moy"],
        "range": ["#1F7EAB","#F8B133","#8DD3E0","#3F8120","#693A80","#6D6E70","#000000"]
      },
      "legend": {
        "orient": "none", "legendX": 555.5, "legendY": 19, "title": null, "padding": 0,
        "symbolType": "M-3.92,-1H3.92V1H-3.92Z", "symbolSize": 144,
        "labelFontSize": 22, "labelColor": "#262626", "labelOffset": 17.5, "labelLimit": 600,
        "rowPadding": 2,
        "labelExpr": "datum.value == 'a_ctc' ? ['Cas liés à un contact étroit et à', 'une éclosion'] : datum.value == 'b_inc' ? ['Aucun lien épidémiologique', 'connu'] : datum.value == 'c_nsp' ? ['Lien épidémiologique- type non', 'spécifié'] : datum.value == 'd_man' ? ['Données manquantes', ''] : datum.value == 'e_voy' ? ['Cas liés à un voyage', ''] : datum.value == 'f_del' ? ['Peut faire l’objet de délais de', 'signalement'] : 'Moyenne mobile de sept jours'",
        "encode": {
          "symbols": {"update": {
            "shape": {"signal": "datum.value === 'moy' ? 'M-3.92,0H3.92' : 'M-3.92,-1H3.92V1H-3.92Z'"},
            "fill": {"signal": "datum.value === 'moy' ? 'transparent' : scale('color', datum.value)"},
            "stroke": {"signal": "datum.value === 'moy' ? '#000000' : 'transparent'"},
            "strokeWidth": {"value": 3},
            "opacity": {"value": 1}
          }},
          "labels": {"update": {"lineHeight": {"value": 28}}}
        }
      }
    },
    "order": {"field": "k", "type": "ordinal", "sort": "ascending"}
  }
 },
 {
  "transform": [{"filter": "isValid(datum.moy)"}],
  "mark": {"type": "line", "strokeWidth": 3, "interpolate": "monotone"},
  "encoding": {
    "x": {"field": "date", "type": "temporal",
      "axis": {
        "values": [
          {"year":2020,"month":1,"date":15,"utc":true},{"year":2020,"month":1,"date":29,"utc":true},{"year":2020,"month":2,"date":12,"utc":true},{"year":2020,"month":2,"date":26,"utc":true},
          {"year":2020,"month":3,"date":11,"utc":true},{"year":2020,"month":3,"date":25,"utc":true},{"year":2020,"month":4,"date":8,"utc":true},{"year":2020,"month":4,"date":22,"utc":true},
          {"year":2020,"month":5,"date":6,"utc":true},{"year":2020,"month":5,"date":20,"utc":true},{"year":2020,"month":6,"date":3,"utc":true},{"year":2020,"month":6,"date":17,"utc":true},
          {"year":2020,"month":7,"date":1,"utc":true},{"year":2020,"month":7,"date":15,"utc":true},{"year":2020,"month":7,"date":29,"utc":true},{"year":2020,"month":8,"date":12,"utc":true},
          {"year":2020,"month":8,"date":26,"utc":true},{"year":2020,"month":9,"date":9,"utc":true},{"year":2020,"month":9,"date":23,"utc":true},{"year":2020,"month":10,"date":7,"utc":true},
          {"year":2020,"month":10,"date":21,"utc":true},{"year":2020,"month":11,"date":4,"utc":true},{"year":2020,"month":11,"date":18,"utc":true},{"year":2020,"month":12,"date":2,"utc":true},
          {"year":2020,"month":12,"date":16,"utc":true},{"year":2020,"month":12,"date":30,"utc":true},{"year":2021,"month":1,"date":13,"utc":true},{"year":2021,"month":1,"date":27,"utc":true},
          {"year":2021,"month":2,"date":10,"utc":true}
        ]
      }
    },
    "y": {"field": "moy", "type": "quantitative",
      "axis": {
        "values": [0,200,400,600,800,1000,1200,1400,1600,1800,2000,2200,2400,2600,2800,3000,3200,3400,3600,3800,4000,4200,4400]
      }
    },
    "color": {"datum": "moy", "type": "nominal"}
  }
 }
]
}
